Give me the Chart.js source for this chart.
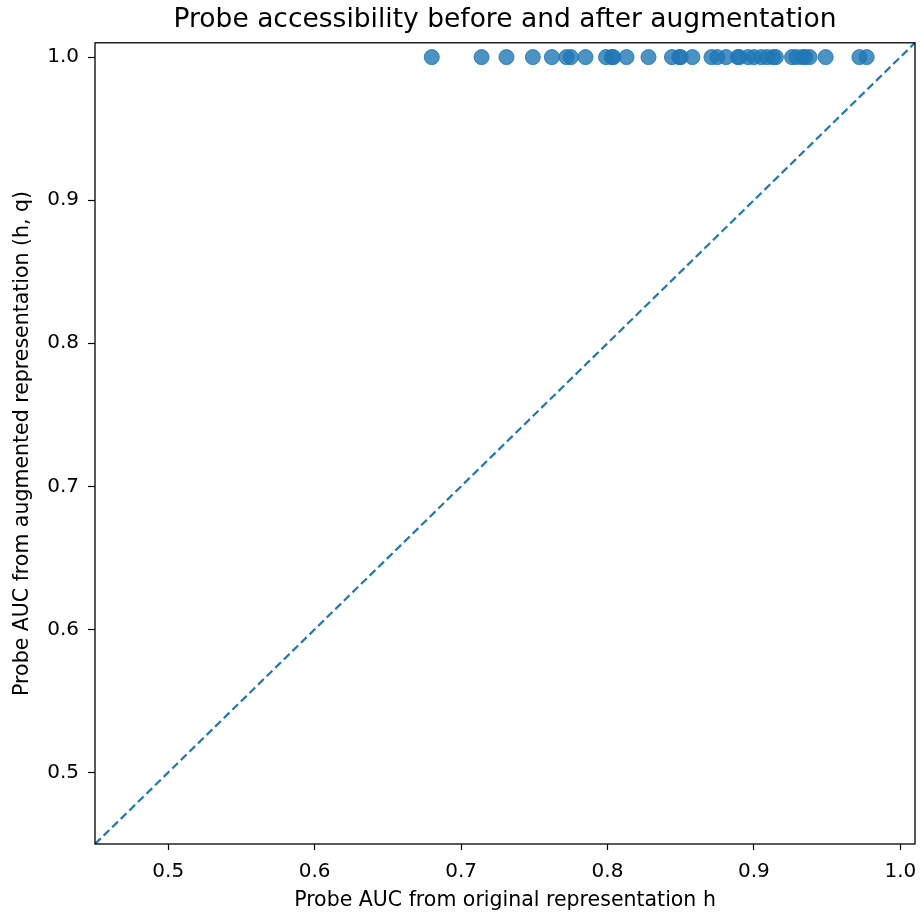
<!DOCTYPE html>
<html>
<head>
<meta charset="utf-8">
<script src="https://cdn.jsdelivr.net/npm/chart.js@4"></script>
<style>
  html, body { margin: 0; padding: 0; background: #fff; }
  #wrap { width: 921px; height: 913px; }
</style>
</head>
<body>
<div id="wrap"><canvas id="chart_probe"></canvas></div>
<script>
// probe AUC before augmentation (x) and after (y)
var auc_original = [0.680, 0.714, 0.731, 0.749, 0.762, 0.772, 0.775, 0.785, 0.799, 0.803,
  0.804, 0.813, 0.828, 0.844, 0.849, 0.850, 0.858, 0.871, 0.875, 0.881, 0.889, 0.890,
  0.896, 0.900, 0.905, 0.909, 0.913, 0.915, 0.926, 0.929, 0.933, 0.935, 0.938, 0.949,
  0.972, 0.977];
var auc_augmented = [1.0, 1.0, 1.0, 1.0, 1.0, 1.0, 1.0, 1.0, 1.0, 1.0,
  1.0, 1.0, 1.0, 1.0, 1.0, 1.0, 1.0, 1.0, 1.0, 1.0, 1.0, 1.0,
  1.0, 1.0, 1.0, 1.0, 1.0, 1.0, 1.0, 1.0, 1.0, 1.0, 1.0, 1.0,
  1.0, 1.0];
var diag_x = [0.45, 1.01];
var tick_values = [0.5, 0.6, 0.7, 0.8, 0.9, 1.0];
var axis_min = 0.45;
var axis_max = 1.01;

var points = auc_original.map(function(v, i) {
  return { x: v, y: auc_augmented[i] };
});
var diag = diag_x.map(function(v) { return { x: v, y: v }; });

var font_family = "'DejaVu Sans', sans-serif";

// box around plot area, like matplotlib spines
var frame = {
  id: 'frame',
  afterDraw: function(chart) {
    var a = chart.chartArea;
    var ctx = chart.ctx;
    ctx.save();
    ctx.strokeStyle = '#000';
    ctx.lineWidth = 1.3;
    ctx.strokeRect(a.left, a.top, a.right - a.left, a.bottom - a.top);
    ctx.restore();
  }
};

function fixedTicks(axis) {
  axis.ticks = tick_values.map(function(v) { return { value: v }; });
}

var config_probe = {
  type: 'scatter',
  data: {
    datasets: [
      {
        data: points,
        backgroundColor: 'rgba(31, 119, 180, 0.8)',
        borderColor: 'rgba(31, 119, 180, 0.85)',
        borderWidth: 1,
        pointRadius: 7.5,
        pointHoverRadius: 7.5,
        order: 1,
      },
      {
        type: 'line',
        data: diag,
        borderColor: '#1f77b4',
        borderWidth: 2.2,
        borderDash: [8, 4],
        pointRadius: 0,
        fill: false,
        order: 2,
      }
    ],
  },
  options: {
    responsive: true,
    maintainAspectRatio: false,
    animation: false,
    layout: {
      autoPadding: false,
      padding: { top: 0, right: 6, bottom: 0, left: 0 },
    },
    scales: {
      x: {
        type: 'linear',
        min: axis_min,
        max: axis_max,
        afterBuildTicks: fixedTicks,
        afterFit: function(axis) {
          axis.height = 69;
          axis.paddingLeft = 0;
          axis.paddingRight = 0;
        },
        grid: {
          drawOnChartArea: false,
          drawTicks: true,
          tickLength: 6,
          tickWidth: 1.2,
          color: '#000',
        },
        border: { display: false },
        ticks: {
          color: '#000',
          font: { family: font_family, size: 20 },
          padding: 10,
          maxRotation: 0,
          callback: function(v) { return v.toFixed(1); },
        },
        title: {
          display: true,
          text: 'Probe AUC from original representation h',
          color: '#000',
          font: { family: font_family, size: 20.5 },
          padding: { top: 0, bottom: 0 },
        },
      },
      y: {
        type: 'linear',
        min: axis_min,
        max: axis_max,
        afterBuildTicks: fixedTicks,
        afterFit: function(axis) { axis.width = 95; },
        grid: {
          drawOnChartArea: false,
          drawTicks: true,
          tickLength: 7,
          tickWidth: 1.2,
          color: '#000',
        },
        border: { display: false },
        ticks: {
          color: '#000',
          font: { family: font_family, size: 20 },
          padding: 9,
          callback: function(v) { return v.toFixed(1); },
        },
        title: {
          display: true,
          text: 'Probe AUC from augmented representation (h, q)',
          color: '#000',
          font: { family: font_family, size: 20.5 },
          padding: { top: 10, bottom: 0 },
        },
      },
    },
    plugins: {
      legend: { display: false },
      tooltip: { enabled: false },
      title: {
        display: true,
        fullSize: false,
        text: 'Probe accessibility before and after augmentation',
        color: '#000',
        font: { family: font_family, size: 26.5, weight: 'normal' },
        padding: { top: 4, bottom: 7 },
      },
    },
  },
  plugins: [frame],
};

var chart_probe = new Chart(document.getElementById('chart_probe'), config_probe);
</script>
</body>
</html>
